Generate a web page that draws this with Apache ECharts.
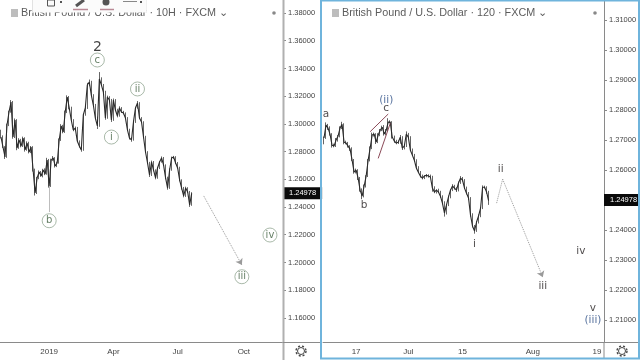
<!DOCTYPE html>
<html>
<head>
<meta charset="utf-8">
<style>html,body{margin:0;padding:0;background:#fff}#main{width:640px;height:360px}</style>
<script src="https://cdn.jsdelivr.net/npm/echarts@6/dist/echarts.min.js"></script>
</head>
<body>
<div id="main"></div>
<script>
// left panel, 10H candles, one close per slot
const leftFirstOpen = 1.2950
const leftCloses = [1.2905,1.2833,1.2761,1.2992,1.3086,1.3158,1.2905,1.3028,1.2826,1.2884,1.2840,1.2898,1.2812,1.2862,1.2797,1.2833,1.2667,1.2501,1.2610,1.2653,1.2624,1.2667,1.2638,1.2739,1.2552,1.2739,1.2754,1.2696,1.2718,1.2884,1.2985,1.2941,1.3086,1.3194,1.3115,1.3028,1.2956,1.2970,1.2876,1.2840,1.2812,1.3064,1.3115,1.3281,1.3302,1.3208,1.3136,1.3042,1.2985,1.3324,1.3281,1.3230,1.3042,1.3194,1.3172,1.3028,1.3172,1.3100,1.3057,1.3115,1.3086,1.3078,1.3042,1.2956,1.2898,1.2884,1.3014,1.3115,1.3151,1.3042,1.3014,1.2905,1.2797,1.2718,1.2631,1.2725,1.2667,1.2610,1.2682,1.2725,1.2754,1.2703,1.2610,1.2537,1.2667,1.2754,1.2761,1.2718,1.2682,1.2595,1.2537,1.2480,1.2537,1.2509,1.2415,1.2498]
// wicks in pips beyond the candle body
const leftUpperWicks = [8,12,6,10,9,14,7,11,6,13,8,10,5,12,9,7,6,10,8,11,7,9,12,16,8,10,14,6,9,11,13,8,10,12,7,9,6,11,8,5,7,10,12,15,18,9,6,8,10,50,12,7,9,10,6,8,11,7,9,12,6,8,5,7,9,6,10,8,14,6,7,5,9,6,8,10,7,5,8,6,11,7,5,9,12,10,8,6,7,9,5,8,10,6,7,9]
const leftLowerWicks = [10,7,14,6,8,5,12,7,16,6,9,7,12,6,10,8,11,18,7,9,6,10,8,5,12,7,6,11,8,5,7,9,6,8,10,7,9,5,8,11,13,6,5,7,9,8,6,10,22,6,8,7,12,5,9,14,6,8,10,5,7,9,6,8,11,13,5,7,6,8,7,9,6,8,14,7,9,10,6,8,5,7,9,12,6,5,7,8,6,9,11,10,7,8,14,6]

// right panel, 120 candles
const rightFirstOpen = 1.2690
const rightCloses = [1.2707,1.2750,1.2740,1.2720,1.2683,1.2680,1.2700,1.2713,1.2740,1.2753,1.2693,1.2690,1.2680,1.2670,1.2633,1.2593,1.2600,1.2573,1.2533,1.2513,1.2547,1.2580,1.2633,1.2673,1.2717,1.2720,1.2693,1.2717,1.2733,1.2743,1.2720,1.2733,1.2760,1.2760,1.2710,1.2697,1.2690,1.2693,1.2710,1.2673,1.2680,1.2720,1.2710,1.2667,1.2650,1.2633,1.2607,1.2593,1.2580,1.2573,1.2580,1.2583,1.2580,1.2577,1.2540,1.2527,1.2533,1.2527,1.2513,1.2490,1.2457,1.2483,1.2510,1.2533,1.2547,1.2540,1.2533,1.2557,1.2573,1.2567,1.2540,1.2523,1.2507,1.2450,1.2413,1.2397,1.2427,1.2447,1.2473,1.2543,1.2543,1.2527,1.2498]
const rightUpperWicks = [5,9,4,6,3,5,7,4,6,8,3,5,4,3,6,4,5,3,4,6,5,3,4,6,8,5,3,6,4,5,7,4,13,6,3,5,4,6,7,3,5,9,4,3,5,4,3,6,4,5,3,4,3,5,4,6,3,5,4,3,6,4,5,3,6,4,3,5,7,4,3,5,4,3,6,4,3,5,4,6,5,3,4]
const rightLowerWicks = [4,3,6,5,8,4,3,5,4,3,7,4,5,6,3,5,4,6,5,10,4,5,3,4,3,5,6,3,4,3,5,4,3,4,5,6,4,3,5,6,4,3,5,4,3,5,4,3,5,4,3,4,5,3,12,4,5,3,6,4,12,5,3,4,3,5,6,4,3,5,3,4,7,5,4,9,3,5,4,3,4,6,14]

const currentPrice = 1.24978

const leftYTicks = [1.16,1.18,1.20,1.22,1.24,1.26,1.28,1.30,1.32,1.34,1.36,1.38]
const rightYTicks = [1.21,1.22,1.23,1.24,1.26,1.27,1.28,1.29,1.30,1.31]

const leftSlots = 141
const rightSlots = 140
const leftTickSlots = [24,56,88,121]
const leftTickLabels = ['2019','Apr','Jul','Oct']
const rightTickSlots = [16,42,69,104,136]
const rightTickLabels = ['17','Jul','15','Aug','19']

// [slot, price, text]
const leftCircled = [[48,1.3461,'c'],[68,1.3252,'ii'],[55,1.2905,'i'],[24,1.2301,'b'],[120,1.1897,'iii'],[134,1.2198,'iv']]
const leftPlain = [[48,1.3555,'2']]
const rightDark = [[1,1.2787,'a'],[31,1.2807,'c'],[20,1.2483,'b'],[75,1.2353,'i'],[88,1.2603,'ii'],[109,1.2213,'iii'],[128,1.2330,'iv'],[134,1.2140,'v']]
const rightBlue = [[31,1.2833,'(ii)'],[134,1.2100,'(iii)']]

const leftArrow = [[101,1.2480],[120,1.1982]]
const leftBWick = [[24,1.2552],[24,1.2364]]
const rightWedge = [[[23,1.2728],[32,1.2787]],[[27,1.2639],[33,1.2756]]]
const rightPathUp = [[86,1.2490],[89,1.2570]]
const rightArrow = [[89,1.2570],[109,1.2243]]

const FONT = '"Liberation Sans", Arial, sans-serif'

function buildCandles(firstOpen, closes, upper, lower) {
  let open = firstOpen
  let out = []
  closes.forEach((c, i) => {
    out.push([open, c, Math.min(open, c) - lower[i] * 0.0001, Math.max(open, c) + upper[i] * 0.0001])
    open = c
  })
  return out
}

function buildCategories(count, slots, labels) {
  let cats = []
  for (let i = 0; i < count; i++) {
    let k = slots.indexOf(i)
    cats.push(k > -1 ? labels[k] : '')
  }
  return cats
}

function xAxisOf(gridIndex, cats) {
  return {
    type: 'category',
    gridIndex,
    data: cats,
    boundaryGap: true,
    axisLine: { lineStyle: { color: '#8a8a8a', width: 1 } },
    axisTick: { alignWithLabel: true, length: 3, lineStyle: { color: '#8a8a8a' }, interval: (i, v) => v !== '' },
    axisLabel: { interval: (i, v) => v !== '', color: '#444', fontSize: 8, fontFamily: FONT, margin: 6 },
    splitLine: { show: false }
  }
}

function yAxisOf(gridIndex, min, max, ticks) {
  return {
    type: 'value',
    gridIndex,
    position: 'right',
    min,
    max,
    axisLine: { show: true, lineStyle: { color: '#8a8a8a', width: 1 } },
    axisTick: { show: true, length: 3, customValues: ticks, lineStyle: { color: '#8a8a8a' } },
    axisLabel: { customValues: ticks, formatter: v => v.toFixed(5), color: '#444', fontSize: 7.5, fontFamily: FONT, margin: 5 },
    splitLine: { show: false }
  }
}

function candleSeries(idx, data) {
  return {
    type: 'candlestick',
    xAxisIndex: idx,
    yAxisIndex: idx,
    barWidth: 1,
    data,
    itemStyle: { color: '#222', color0: '#222', borderColor: '#666', borderColor0: '#666', borderWidth: 1 }
  }
}

// thin close line keeps the dense bars reading as one trace
function closeLineSeries(idx, closes) {
  return {
    type: 'line',
    xAxisIndex: idx,
    yAxisIndex: idx,
    data: closes,
    symbol: 'none',
    silent: true,
    z: 3,
    lineStyle: { color: '#2a2a2a', width: 1.1 }
  }
}

function priceLabelSeries(idx) {
  // empty level line only to carry the last-price tag on the axis
  return {
    type: 'line',
    xAxisIndex: idx,
    yAxisIndex: idx,
    data: [],
    markLine: {
      silent: true,
      symbol: 'none',
      animation: false,
      lineStyle: { color: 'transparent', width: 0 },
      label: {
        position: 'end',
        distance: 0,
        formatter: currentPrice.toFixed(5),
        backgroundColor: '#0a0a0a',
        color: '#fff',
        fontSize: 7.5,
        fontFamily: FONT,
        padding: [2, 6, 2, 6]
      },
      data: [{ yAxis: currentPrice }]
    }
  }
}

function segmentSeries(idx, segments, color, type, width, endSymbol) {
  return {
    type: 'line',
    xAxisIndex: idx,
    yAxisIndex: idx,
    data: [],
    markLine: {
      silent: true,
      animation: false,
      symbol: ['none', endSymbol || 'none'],
      symbolSize: 6,
      label: { show: false },
      lineStyle: { color, type, width },
      data: segments.map(s => [{ coord: s[0] }, { coord: s[1] }])
    }
  }
}

function textSeries(idx, rows, color, size, circled) {
  return {
    type: 'scatter',
    xAxisIndex: idx,
    yAxisIndex: idx,
    silent: true,
    z: 5,
    symbol: 'circle',
    symbolSize: circled ? 14 : 1,
    itemStyle: circled
      ? { color: '#fff', borderColor: '#93a893', borderWidth: 1 }
      : { color: 'transparent' },
    label: {
      show: true,
      position: 'inside',
      formatter: p => p.data[2],
      color,
      fontSize: size,
      fontFamily: '"DejaVu Sans", sans-serif'
    },
    data: rows
  }
}

function gear(cx, cy) {
  return [
    { type: 'circle', shape: { cx, cy, r: 3.5 }, style: { fill: '#fff', stroke: '#444', lineWidth: 1 }, z: 20 },
    { type: 'circle', shape: { cx, cy, r: 5 }, style: { fill: 'none', stroke: '#444', lineWidth: 1.4, lineDash: [2, 2] }, z: 20 }
  ]
}

function headerBits(squareX, dotX) {
  return [
    { type: 'rect', shape: { x: squareX, y: 9, width: 7, height: 8 }, style: { fill: '#bdbdbd' }, z: 20 },
    { type: 'circle', shape: { cx: dotX, cy: 13, r: 1.8 }, style: { fill: '#888' }, z: 20 }
  ]
}

function hline(x1, x2, y, color, w) {
  return { type: 'line', shape: { x1, y1: y, x2, y2: y }, style: { stroke: color, lineWidth: w }, z: 15 }
}
function vline(x, y1, y2, color, w) {
  return { type: 'line', shape: { x1: x, y1, x2: x, y2 }, style: { stroke: color, lineWidth: w }, z: 15 }
}

// floating drawing toolbar that sits over the left title
const toolbar = [
  { type: 'rect', shape: { x: 33, y: 0, width: 113, height: 12.5 }, style: { fill: '#fbfbfb' }, z: 30 },
  vline(32.5, 0, 13, '#e2e2e2', 1), vline(68, 0, 13, '#e2e2e2', 1), vline(94, 0, 13, '#e2e2e2', 1), vline(120, 0, 13, '#e2e2e2', 1), vline(146, 0, 13, '#e2e2e2', 1),
  { type: 'rect', shape: { x: 47.5, y: 0, width: 7, height: 6 }, style: { fill: 'none', stroke: '#555', lineWidth: 1 }, z: 31 },
  { type: 'rect', shape: { x: 60, y: 1, width: 2, height: 2 }, style: { fill: '#555' }, z: 31 },
  { type: 'line', shape: { x1: 76, y1: 6, x2: 84, y2: 0 }, style: { stroke: '#555', lineWidth: 3 }, z: 31 },
  { type: 'line', shape: { x1: 73, y1: 9.5, x2: 88, y2: 9.5 }, style: { stroke: '#b98a96', lineWidth: 1.5 }, z: 31 },
  { type: 'circle', shape: { cx: 106, cy: 2, r: 3.5 }, style: { fill: '#555' }, z: 31 },
  { type: 'line', shape: { x1: 100, y1: 9.5, x2: 114, y2: 9.5 }, style: { stroke: '#b98a96', lineWidth: 1.5 }, z: 31 },
  { type: 'line', shape: { x1: 123, y1: 1.5, x2: 137, y2: 1.5 }, style: { stroke: '#888', lineWidth: 1 }, z: 31 },
  { type: 'rect', shape: { x: 140, y: 1, width: 2, height: 2 }, style: { fill: '#555' }, z: 31 }
]

const titleStyle = { color: '#5c5c5c', fontSize: 10.8, fontWeight: 'normal', fontFamily: FONT }

const option = {
  animation: false,
  backgroundColor: '#fff',
  title: [
    { text: 'British Pound / U.S. Dollar · 10H · FXCM ⌄', left: 21, top: 8, padding: 0, textStyle: titleStyle },
    { text: 'British Pound / U.S. Dollar · 120 · FXCM ⌄', left: 342, top: 8, padding: 0, textStyle: titleStyle }
  ],
  grid: [
    { left: 0, top: 0, width: 283, height: 342 },
    { left: 323, top: 0, width: 281, height: 342 }
  ],
  xAxis: [
    xAxisOf(0, buildCategories(leftSlots, leftTickSlots, leftTickLabels)),
    xAxisOf(1, buildCategories(rightSlots, rightTickSlots, rightTickLabels))
  ],
  yAxis: [
    yAxisOf(0, 1.1426, 1.3894, leftYTicks),
    yAxisOf(1, 1.2027, 1.3167, rightYTicks)
  ],
  series: [
    segmentSeries(0, [leftBWick], '#bdbdbd', 'solid', 1),
    candleSeries(0, buildCandles(leftFirstOpen, leftCloses, leftUpperWicks, leftLowerWicks)),
    candleSeries(1, buildCandles(rightFirstOpen, rightCloses, rightUpperWicks, rightLowerWicks)),
    closeLineSeries(0, leftCloses),
    closeLineSeries(1, rightCloses),
    priceLabelSeries(0),
    priceLabelSeries(1),
    segmentSeries(0, [leftArrow], '#9a9a9a', 'dotted', 1, 'arrow'),
    segmentSeries(1, [rightPathUp], '#9a9a9a', 'dotted', 1),
    segmentSeries(1, [rightArrow], '#9a9a9a', 'dotted', 1, 'arrow'),
    segmentSeries(1, rightWedge, '#8b4a58', 'solid', 1),
    textSeries(0, leftCircled, '#3f5f3f', 10, true),
    textSeries(0, leftPlain, '#111', 14, false),
    textSeries(1, rightDark, '#1f1a1c', 10.5, false),
    textSeries(1, rightBlue, '#2d4f86', 10.5, false)
  ],
  graphic: [
    vline(283.5, 0, 360, '#b0b0b0', 2),
    hline(283, 320, 342.5, '#8a8a8a', 1),
    hline(604, 639, 342.5, '#8a8a8a', 1),
    { type: 'rect', shape: { x: 321, y: 0.5, width: 318, height: 358 }, style: { fill: 'none', stroke: '#6fb4dc', lineWidth: 2 }, z: 25 },
    vline(604, 342, 358, '#8a8a8a', 1),
    ...gear(301, 351),
    ...gear(622, 351),
    ...headerBits(11, 274),
    ...headerBits(332, 595),
    ...toolbar
  ]
}

const myChart = echarts.init(document.getElementById('main'), null, { renderer: 'canvas' })
myChart.setOption(option)
</script>
</body>
</html>
